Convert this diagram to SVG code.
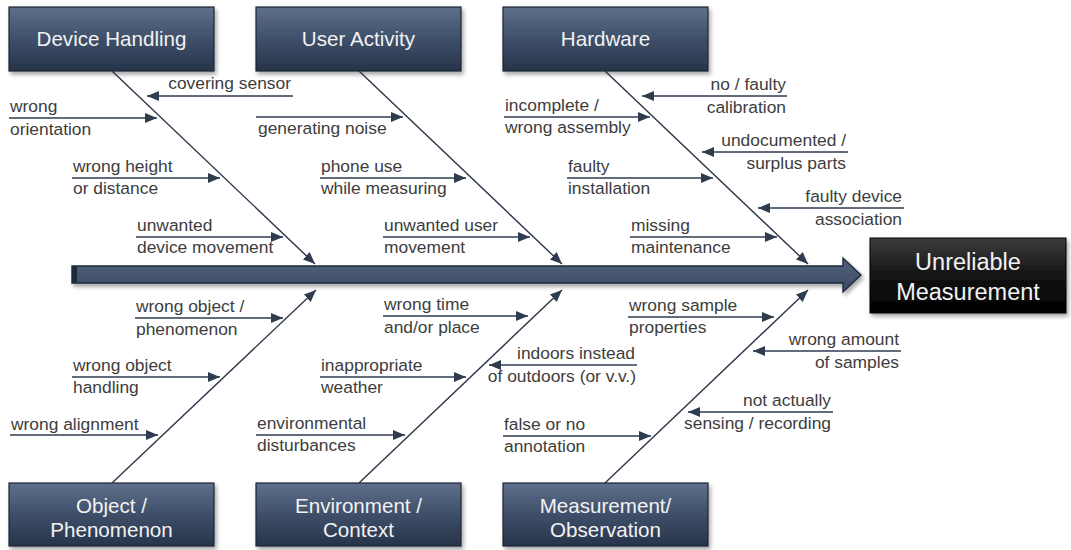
<svg xmlns="http://www.w3.org/2000/svg" width="1071" height="550" viewBox="0 0 1071 550">
  <defs>
    <linearGradient id="catFill" x1="0" y1="0" x2="0" y2="1">
      <stop offset="0" stop-color="#5f708c"/>
      <stop offset="0.5" stop-color="#3f4f69"/>
      <stop offset="1" stop-color="#27344a"/>
    </linearGradient>
    <linearGradient id="effectFill" x1="0" y1="0" x2="0" y2="1">
      <stop offset="0" stop-color="#3c3c3c"/>
      <stop offset="0.5" stop-color="#141414"/>
      <stop offset="1" stop-color="#000000"/>
    </linearGradient>
    <linearGradient id="spineFill" x1="0" y1="0" x2="0" y2="1">
      <stop offset="0" stop-color="#52627c"/>
      <stop offset="1" stop-color="#3b4a62"/>
    </linearGradient>
    <filter id="shadow" x="-10%" y="-20%" width="125%" height="150%">
      <feDropShadow dx="2" dy="3" stdDeviation="2" flood-color="#000" flood-opacity="0.35"/>
    </filter>
    <marker id="tip" markerUnits="userSpaceOnUse" markerWidth="12" markerHeight="10" refX="12" refY="5" orient="auto">
      <path d="M0,0 L12,5 L0,10 Z" fill="#2f3b4f"/>
    </marker>
  </defs>
  <style>
    .cat rect { fill: url(#catFill); stroke: #1c2533; stroke-width: 1.2; filter: url(#shadow); }
    .cat text { fill: #f2f2f2; font-family: "Liberation Sans", Arial, sans-serif; font-size: 20.6px; text-anchor: middle; }
    .effect rect { fill: url(#effectFill); stroke: #000; stroke-width: 1; filter: url(#shadow); }
    .effect text { fill: #f2f2f2; font-family: "Liberation Sans", Arial, sans-serif; font-size: 23.5px; text-anchor: middle; }
    .bone { stroke: #2b3648; stroke-width: 1.4; fill: none; marker-end: url(#tip); }
    .cause line { stroke: #2f3b4f; stroke-width: 1.6; marker-end: url(#tip); }
    .cause text { fill: #3d3d3d; font-family: "Liberation Sans", Arial, sans-serif; font-size: 17.4px; }
    .r text { text-anchor: end; }
  </style>

  <rect width="1071" height="550" fill="#ffffff"/>

  <!-- main spine -->
  <g id="spine" filter="url(#shadow)">
    <path d="M72,266 L843,266 L843,258 L861,275 L843,292 L843,283 L72,283 Z" fill="url(#spineFill)" stroke="#1f2a3a" stroke-width="1.4"/>
    <rect x="72" y="266" width="5" height="17" fill="#1f2a3a"/>
  </g>

  <!-- category boxes -->
  <g id="device-handling" class="cat">
    <rect x="9" y="7" width="205" height="64"/>
    <text x="111.5" y="46">Device Handling</text>
  </g>
  <g id="user-activity" class="cat">
    <rect x="256" y="7" width="205" height="64"/>
    <text x="358.5" y="46">User Activity</text>
  </g>
  <g id="hardware" class="cat">
    <rect x="503" y="7" width="205" height="64"/>
    <text x="605.5" y="46">Hardware</text>
  </g>
  <g id="object-phenomenon" class="cat">
    <rect x="9" y="483" width="205" height="63"/>
    <text x="111.5" y="513">Object /</text>
    <text x="111.5" y="537">Phenomenon</text>
  </g>
  <g id="environment-context" class="cat">
    <rect x="256" y="483" width="205" height="63"/>
    <text x="358.5" y="513">Environment /</text>
    <text x="358.5" y="537">Context</text>
  </g>
  <g id="measurement-observation" class="cat">
    <rect x="503" y="483" width="205" height="63"/>
    <text x="605.5" y="513">Measurement/</text>
    <text x="605.5" y="537">Observation</text>
  </g>

  <!-- effect -->
  <g id="unreliable-measurement" class="effect">
    <rect x="870" y="238" width="196" height="75"/>
    <text x="968" y="270">Unreliable</text>
    <text x="968" y="300">Measurement</text>
  </g>

  <!-- bones and cause arrows -->
  <g id="connectors">
    <line class="bone" x1="112" y1="71" x2="315" y2="264"/>
    <line class="bone" x1="359" y1="71" x2="562" y2="264"/>
    <line class="bone" x1="605" y1="71" x2="808" y2="264"/>
    <line class="bone" x1="112" y1="483" x2="316" y2="290"/>
    <line class="bone" x1="359" y1="483" x2="562" y2="290"/>
    <line class="bone" x1="605" y1="483" x2="808" y2="290"/>

    <!-- Device Handling -->
    <g class="cause r"><line x1="293" y1="96" x2="147" y2="96"/><text x="291" y="89">covering sensor</text></g>
    <g class="cause"><line x1="9" y1="118" x2="157" y2="118"/><text x="10" y="112">wrong</text><text x="10" y="135">orientation</text></g>
    <g class="cause"><line x1="72" y1="178" x2="220" y2="178"/><text x="73" y="172">wrong height</text><text x="73" y="194">or distance</text></g>
    <g class="cause"><line x1="136" y1="237" x2="283" y2="237"/><text x="137" y="231">unwanted</text><text x="137" y="253">device movement</text></g>

    <!-- User Activity -->
    <g class="cause"><line x1="256" y1="117" x2="403" y2="117"/><text x="258" y="134">generating noise</text></g>
    <g class="cause"><line x1="320" y1="178" x2="466" y2="178"/><text x="321" y="172">phone use</text><text x="321" y="194">while measuring</text></g>
    <g class="cause"><line x1="383" y1="237" x2="530" y2="237"/><text x="384" y="231">unwanted user</text><text x="384" y="253">movement</text></g>

    <!-- Hardware -->
    <g class="cause r"><line x1="787" y1="96" x2="642" y2="96"/><text x="786" y="90">no / faulty</text><text x="786" y="113">calibration</text></g>
    <g class="cause"><line x1="504" y1="117" x2="650" y2="117"/><text x="505" y="111">incomplete /</text><text x="505" y="133">wrong assembly</text></g>
    <g class="cause r"><line x1="848" y1="152" x2="702" y2="152"/><text x="846" y="146">undocumented /</text><text x="846" y="169">surplus parts</text></g>
    <g class="cause"><line x1="567" y1="178" x2="713" y2="178"/><text x="568" y="172">faulty</text><text x="568" y="194">installation</text></g>
    <g class="cause r"><line x1="904" y1="208" x2="758" y2="208"/><text x="902" y="202">faulty device</text><text x="902" y="225">association</text></g>
    <g class="cause"><line x1="630" y1="237" x2="777" y2="237"/><text x="631" y="231">missing</text><text x="631" y="253">maintenance</text></g>

    <!-- Object / Phenomenon -->
    <g class="cause"><line x1="135" y1="318" x2="283" y2="318"/><text x="136" y="312">wrong object /</text><text x="136" y="335">phenomenon</text></g>
    <g class="cause"><line x1="72" y1="377" x2="220" y2="377"/><text x="73" y="371">wrong object</text><text x="73" y="393">handling</text></g>
    <g class="cause"><line x1="10" y1="435" x2="158" y2="435"/><text x="11" y="430">wrong alignment</text></g>

    <!-- Environment / Context -->
    <g class="cause"><line x1="383" y1="316" x2="528" y2="316"/><text x="384" y="310">wrong time</text><text x="384" y="333">and/or place</text></g>
    <g class="cause"><line x1="320" y1="377" x2="466" y2="377"/><text x="321" y="371">inappropriate</text><text x="321" y="393">weather</text></g>
    <g class="cause r"><line x1="637" y1="365" x2="489" y2="365"/><text x="635" y="359">indoors instead</text><text x="636" y="382">of outdoors (or v.v.)</text></g>
    <g class="cause"><line x1="256" y1="435" x2="405" y2="435"/><text x="257" y="429">environmental</text><text x="257" y="451">disturbances</text></g>

    <!-- Measurement / Observation -->
    <g class="cause"><line x1="628" y1="317" x2="774" y2="317"/><text x="629" y="311">wrong sample</text><text x="629" y="333">properties</text></g>
    <g class="cause r"><line x1="901" y1="351" x2="753" y2="351"/><text x="899" y="345">wrong amount</text><text x="899" y="368">of samples</text></g>
    <g class="cause"><line x1="503" y1="436" x2="651" y2="436"/><text x="504" y="430">false or no</text><text x="504" y="452">annotation</text></g>
    <g class="cause r"><line x1="833" y1="412" x2="688" y2="412"/><text x="831" y="406">not actually</text><text x="831" y="429">sensing / recording</text></g>
  </g>
</svg>
